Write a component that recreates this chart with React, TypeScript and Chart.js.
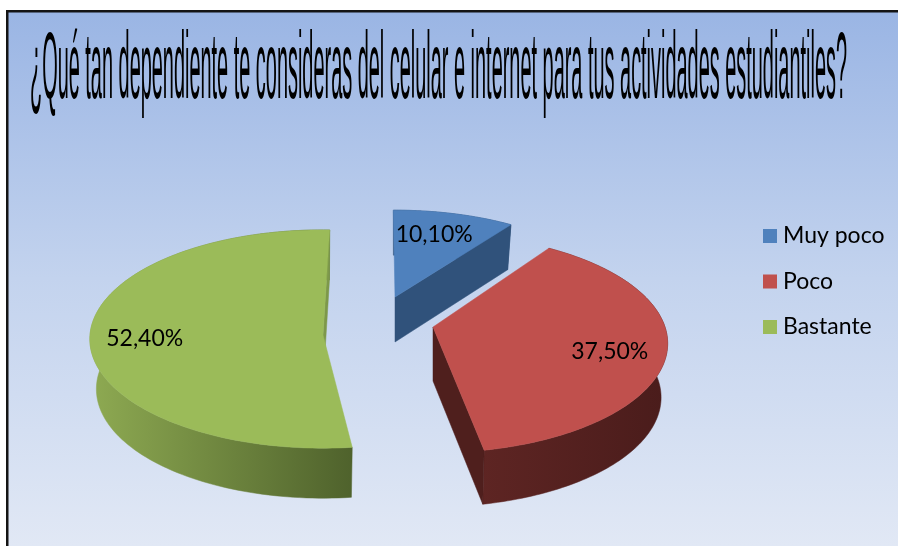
import React, { useEffect, useRef } from "react";
import { Chart, registerables } from "chart.js";

Chart.register(...registerables);

const titleText = "¿Qué tan dependiente te consideras del celular e internet para tus actividades estudiantiles?";
const categories = ["Muy poco", "Poco", "Bastante"];
const values = [10.1, 37.5, 52.4];
const valueLabels = ["10,10%", "37,50%", "52,40%"];
const topColors = ["#4f81bd", "#c0504d", "#9bbb59"];

// View settings of the tilted, exploded pie: one projection per slice.
const views = [
  { ax: 395, ay: 297, A: 224, B: 101, k: 0.163, rot: -0.5, depth: 45, faceColor: "#30527b", wall: ["#30527b", "#30527b"], lr: 0.71, la: -1.8 },
  { ax: 433, ay: 327, A: 232, B: 107, k: 0.15, rot: -2.2, depth: 54, faceColor: "#4f1f1d", wall: ["#5e2523", "#4a1c1b"], lr: 0.77, la: 5.4 },
  { ax: 323, ay: 335, A: 233, B: 109, k: 0.037, rot: 1.7, depth: 50, faceColor: "#7d984a", wall: ["#8eaa52", "#4f622c"], lr: 0.765, la: 0 },
];
const bottomShrink = 0.972;

type Pt = [number, number];

function project(v: any, theta: number, r = 1): Pt {
  const t = theta + (v.rot * Math.PI) / 180;
  const Y = -Math.cos(t) * r;
  const s = 1 / (1 - v.k * Y);
  return [v.ax + v.A * Math.sin(t) * r * s, v.ay + v.B * Y * s];
}

function arcPoints(v: any, a0: number, a1: number): Pt[] {
  const pts: Pt[] = [];
  const n = 120;
  for (let i = 0; i <= n; i++) pts.push(project(v, a0 + ((a1 - a0) * i) / n));
  return pts;
}

function fillPoly(ctx: CanvasRenderingContext2D, pts: Pt[], fill: any) {
  ctx.beginPath();
  pts.forEach((p, i) => (i ? ctx.lineTo(p[0], p[1]) : ctx.moveTo(p[0], p[1])));
  ctx.closePath();
  ctx.fillStyle = fill;
  ctx.strokeStyle = fill;
  ctx.lineWidth = 0.5;
  ctx.fill();
  ctx.stroke();
}

const backdrop = {
  id: "backdrop",
  beforeDraw(chart: any) {
    const { ctx, width, height } = chart;
    ctx.save();
    ctx.fillStyle = "#ffffff";
    ctx.fillRect(0, 0, width, height);
    const g = ctx.createLinearGradient(0, 11, 0, height);
    g.addColorStop(0, "#9ab5e4");
    g.addColorStop(0.5, "#c3d3ee");
    g.addColorStop(1, "#e1e8f5");
    ctx.fillStyle = g;
    ctx.fillRect(7, 11, width - 7, height - 11);
    ctx.fillStyle = "#141414";
    ctx.fillRect(6, 10, width - 6, 2.5);
    ctx.fillRect(6, 10, 2.5, height - 10);
    ctx.restore();
  },
};

const pie3d = {
  id: "pie3d",
  beforeDatasetsDraw(chart: any) {
    const { ctx } = chart;
    const arcs = chart.getDatasetMeta(0).data;
    ctx.save();
    arcs.forEach((arc: any, i: number) => {
      const v: any = views[i];
      const a0 = arc.startAngle + Math.PI / 2;
      const a1 = arc.endAngle + Math.PI / 2;
      const rim = arcPoints(v, a0, a1);
      const down = (p: Pt): Pt => [v.ax + (p[0] - v.ax) * bottomShrink, p[1] + v.depth];
      // outer wall
      const xs = rim.map((p) => p[0]);
      const from = i === 1 ? 480 : Math.min(...xs);
      const g = ctx.createLinearGradient(from, 0, Math.max(...xs), 0);
      g.addColorStop(0, v.wall[0]);
      g.addColorStop(1, v.wall[1]);
      fillPoly(ctx, [...rim, ...rim.slice().reverse().map(down)], g);
      // cut face along the closing edge of the slice
      const apex: Pt = [v.ax, v.ay];
      const edge = rim[rim.length - 1];
      fillPoly(ctx, [apex, edge, down(edge), down(apex)], v.faceColor);
      // top surface
      fillPoly(ctx, [apex, ...rim], topColors[i]);
    });
    ctx.restore();
    return false;
  },
};

const titleAndLegend = {
  id: "titleAndLegend",
  afterDraw(chart: any) {
    const { ctx } = chart;
    const arcs = chart.getDatasetMeta(0).data;

    ctx.save();
    ctx.fillStyle = "#000000";
    ctx.font = "23px Lato";
    ctx.textAlign = "center";
    ctx.textBaseline = "middle";
    arcs.forEach((arc: any, i: number) => {
      const v: any = views[i];
      const mid = (arc.startAngle + arc.endAngle) / 2 + Math.PI / 2 + (v.la * Math.PI) / 180;
      const p = project(v, mid, v.lr);
      ctx.fillText(valueLabels[i], p[0], p[1]);
    });
    ctx.restore();

    ctx.save();
    ctx.fillStyle = "#000000";
    ctx.font = "94px 'Liberation Sans'";
    ctx.textBaseline = "alphabetic";
    ctx.textAlign = "left";
    const w = ctx.measureText(titleText).width;
    ctx.translate(30, 98);
    ctx.scale(817 / w, 1);
    ctx.fillText(titleText, 0, 0);
    ctx.restore();

    ctx.save();
    ctx.font = "23px Lato";
    ctx.textBaseline = "middle";
    ctx.textAlign = "left";
    categories.forEach((c, i) => {
      const y = 236 + i * 45.5;
      ctx.fillStyle = topColors[i];
      ctx.fillRect(763, y - 7, 14, 14);
      ctx.fillStyle = "#000000";
      ctx.fillText(c, 783, y);
    });
    ctx.restore();
  },
};

export default function App() {
  const ref = useRef<HTMLCanvasElement>(null);
  useEffect(() => {
    document.body.style.margin = "0";
    document.body.style.overflow = "hidden";
    const chart = new Chart(ref.current!, {
      type: "pie",
      data: {
        labels: categories,
        datasets: [{ data: values, backgroundColor: topColors }],
      },
      options: {
        responsive: false,
        animation: false,
        plugins: { legend: { display: false }, title: { display: false }, tooltip: { enabled: false } },
      },
      plugins: [backdrop, pie3d, titleAndLegend],
    } as any);
    return () => chart.destroy();
  }, []);
  return <canvas ref={ref} width={898} height={546} style={{ display: "block" }} />;
}
